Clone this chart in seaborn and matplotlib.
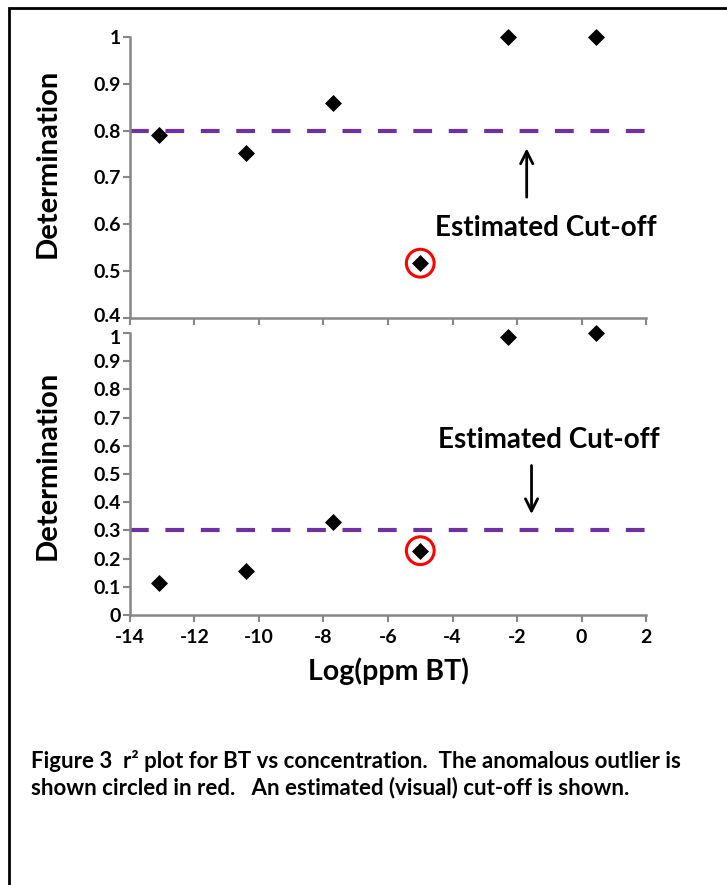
import matplotlib
matplotlib.use("Agg")
import matplotlib.pyplot as plt
import matplotlib.patches as mpatches
import matplotlib.transforms as mtrans
import pandas as pd
import seaborn as sns

# data
log_ppm = [-13.1, -10.4, -7.7, -5.0, -2.27, 0.44]
r2_top = [0.79, 0.752, 0.859, 0.517, 1.0, 1.0]
r2_bottom = [0.115, 0.156, 0.331, 0.228, 0.987, 1.0]
outlier_idx = 3

cutoff_x = [-14, 2]
cutoff_top = 0.8
cutoff_bottom = 0.3

top_yticks = [0.4, 0.5, 0.6, 0.7, 0.8, 0.9, 1.0]
top_ylabels = ["0.4", "0.5", "0.6", "0.7", "0.8", "0.9", "1"]
bot_yticks = [0, 0.1, 0.2, 0.3, 0.4, 0.5, 0.6, 0.7, 0.8, 0.9, 1.0]
bot_ylabels = ["0", "0.1", "0.2", "0.3", "0.4", "0.5", "0.6", "0.7", "0.8", "0.9", "1"]
xticks = [-14, -12, -10, -8, -6, -4, -2, 0, 2]
xlabels = ["-14", "-12", "-10", "-8", "-6", "-4", "-2", "0", "2"]

caption1 = "Figure 3  r\u00b2 plot for BT vs concentration.  The anomalous outlier is"
caption2 = "shown circled in red.   An estimated (visual) cut-off is shown."

df = pd.DataFrame({"x": log_ppm, "top": r2_top, "bottom": r2_bottom})

sns.set_theme(style="ticks")
plt.rcParams["font.family"] = ["Lato", "DejaVu Sans"]
plt.rcParams["axes.unicode_minus"] = False
plt.rcParams["text.color"] = "black"
plt.rcParams["axes.labelcolor"] = "black"

W = "bold"
grey = "#868686"
purple = "#7030A0"

fig = plt.figure(figsize=(7.27, 8.85), dpi=100)
ax1 = fig.add_axes([0.1788, 0.6407, 0.7098, 0.3175])
ax2 = fig.add_axes([0.1788, 0.3051, 0.7098, 0.3186])

for ax, col, cut, yt, yl, ylim in [
    (ax1, "top", cutoff_top, top_yticks, top_ylabels, (0.4, 1.0)),
    (ax2, "bottom", cutoff_bottom, bot_yticks, bot_ylabels, (0, 1.0)),
]:
    ax.plot(cutoff_x, [cut, cut], color=purple, lw=3, dashes=(4.5, 4), zorder=1)
    sns.scatterplot(data=df, x="x", y=col, marker="D", color="black", s=75,
                    edgecolor="black", linewidth=0, ax=ax, zorder=3, clip_on=False)
    ax.scatter([log_ppm[outlier_idx]], [df[col][outlier_idx]], s=400,
               facecolors="none", edgecolors="red", linewidths=2.2, zorder=4)
    ax.set_xlim(-14, 2)
    ax.set_ylim(*ylim)
    ax.set_xticks(xticks)
    ax.set_xticklabels(xlabels)
    ax.set_yticks(yt)
    ax.set_yticklabels(yl)
    for s in ["top", "right"]:
        ax.spines[s].set_visible(False)
    for s in ["left", "bottom"]:
        ax.spines[s].set_color(grey)
        ax.spines[s].set_linewidth(1.8)
    ax.tick_params(axis="both", colors=grey, labelcolor="black", width=1.5,
                   length=5, direction="out", labelsize=14, pad=1.5)
    for lab in ax.get_xticklabels() + ax.get_yticklabels():
        lab.set_fontweight(W)
        lab.set_color("black")
    ax.set_ylabel("Determination", fontsize=21, fontweight=W, color="black")
    ax.set_xlabel("")
    ax.set_facecolor("none")

ax1.tick_params(axis="x", labelbottom=False)
ax1.yaxis.set_label_coords(-0.135, 0.55)
ax2.yaxis.set_label_coords(-0.135, 0.53)
ax2.set_xlabel("Log(ppm BT)", fontsize=20.5, fontweight=W, labelpad=8, color="black")
ax2.tick_params(axis="x", pad=5)

# the touching "0.4" / "1" labels: nudge them apart a little
lab_04 = ax1.get_yticklabels()[0]
lab_04.set_transform(lab_04.get_transform() + mtrans.ScaledTranslation(0, 2 / 72, fig.dpi_scale_trans))
lab_1 = ax2.get_yticklabels()[-1]
lab_1.set_transform(lab_1.get_transform() + mtrans.ScaledTranslation(0, -3 / 72, fig.dpi_scale_trans))

# annotations
ax1.annotate("", xy=(-1.7, 0.768), xytext=(-1.7, 0.652),
             arrowprops=dict(arrowstyle="->", color="black", lw=2, mutation_scale=22))
ax1.text(-1.1, 0.592, "Estimated Cut-off", fontsize=20, fontweight=W,
         ha="center", va="center")
ax2.annotate("", xy=(-1.55, 0.348), xytext=(-1.55, 0.54),
             arrowprops=dict(arrowstyle="->", color="black", lw=2, mutation_scale=22))
ax2.text(-1.0, 0.62, "Estimated Cut-off", fontsize=20, fontweight=W,
         ha="center", va="center")

# outer frame (left and top edges visible)
fig.add_artist(mpatches.Rectangle((9 / 727, -0.2), 1.2, 1.2 - 8 / 885, fill=False,
                                  edgecolor="black", lw=2, transform=fig.transFigure))

fig.text(31 / 727, 1 - 768 / 885, caption1, fontsize=16, fontweight=W, va="baseline")
fig.text(31 / 727, 1 - 794 / 885, caption2, fontsize=16, fontweight=W, va="baseline")

fig.savefig("out.png", dpi=100, facecolor="white")
